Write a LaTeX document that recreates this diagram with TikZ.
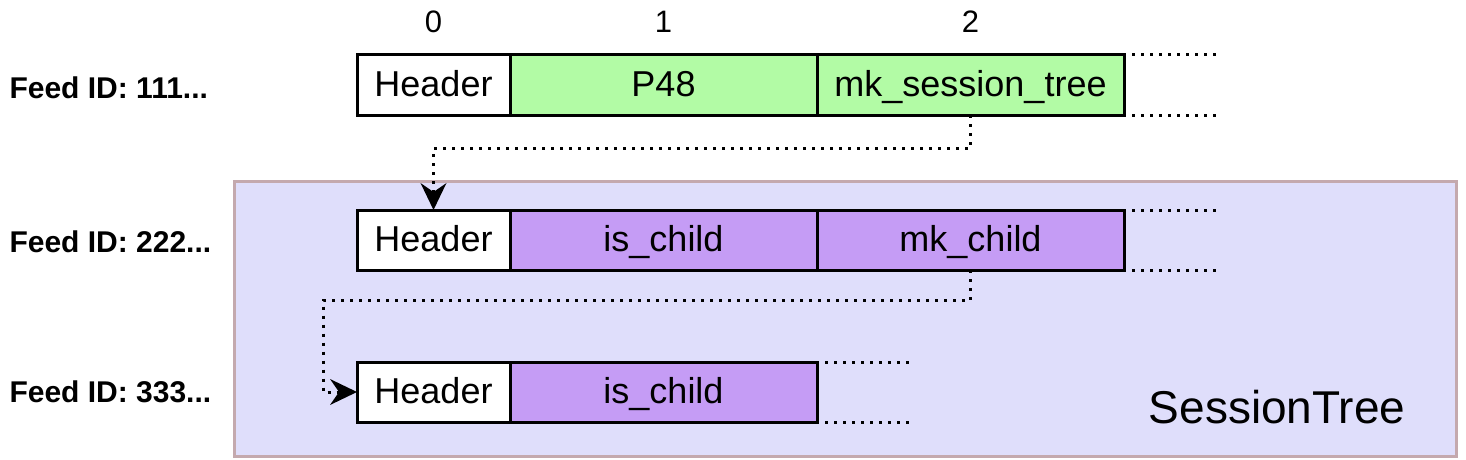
\documentclass[tikz,border=0pt]{standalone}
\usepackage{fontspec}
\setmainfont{Liberation Sans}
\usetikzlibrary{arrows.meta,positioning}
\definecolor{leaf}{HTML}{B2FBA5}
\definecolor{tree}{HTML}{C59CF5}
\definecolor{treebg}{HTML}{DFDEFB}
\definecolor{treeline}{HTML}{C4A9AE}
\tikzset{
  cell/.style={draw, line width=3pt, minimum height=60pt, inner sep=0pt,
    outer sep=0pt, text height=27pt, text depth=5pt,
    font=\fontsize{36pt}{40pt}\selectfont},
  hdr/.style={cell, fill=white, minimum width=153pt, anchor=west},
  slot/.style={cell, minimum width=307pt, right=0pt of #1},
  feed/.style={anchor=west, font=\fontsize{30pt}{34pt}\selectfont\bfseries},
  idx/.style={font=\fontsize{31pt}{34pt}\selectfont},
  more/.style={line width=3pt, dash pattern=on 3pt off 6pt},
  link/.style={line width=3pt, dash pattern=on 3pt off 6pt,
    -{Stealth[length=27pt, width=26pt, inset=9pt, line width=0pt, sep=0pt]}},
  group/.style={draw=treeline, fill=treebg, line width=2.5pt, anchor=north west,
    minimum width=1222pt, minimum height=275pt},
}

\begin{document}
\begin{tikzpicture}[x=1pt, y=-1pt]
    \useasboundingbox (0,0) rectangle (1466,460);
    % session tree frame
    \node[group] (st) at (233,180) {};
    \node[font=\fontsize{46pt}{50pt}\selectfont] (stl) at (1277,407) {SessionTree};
    % feed 111
    \node[feed] (f1) at (6,88) {Feed ID: 111...};
    \node[hdr] (h1) at (357,85) {Header};
    \node[slot=h1, fill=leaf] (p1) {P48};
    \node[slot=p1, fill=leaf] (s1) {mk\_session\_tree};
    \node[idx] (i0) at (h1.center |- 0,22) {0};
    \node[idx] (i1) at (p1.center |- 0,22) {1};
    \node[idx] (i2) at (s1.center |- 0,22) {2};
    % feed 222
    \node[feed] (f2) at (6,242) {Feed ID: 222...};
    \node[hdr] (h2) at (357,240) {Header};
    \node[slot=h2, fill=tree] (c2) {is\_child};
    \node[slot=c2, fill=tree] (m2) {mk\_child};
    % feed 333
    \node[feed] (f3) at (6,392) {Feed ID: 333...};
    \node[hdr] (h3) at (357,392) {Header};
    \node[slot=h3, fill=tree] (c3) {is\_child};
    % trailing cells
    \foreach \n in {s1,m2,c3}{
      \draw[more] ([xshift=8pt]\n.north east) -- ++(88,0);
      \draw[more] ([xshift=8pt]\n.south east) -- ++(88,0);
    }
    \draw[link] (s1.south) -- ++(0,33) -| (h2.north);
    \draw[link] (m2.south) -- ++(0,30) -| ([xshift=-34pt]h3.west) -- (h3.west);
  \end{tikzpicture}
\end{document}
